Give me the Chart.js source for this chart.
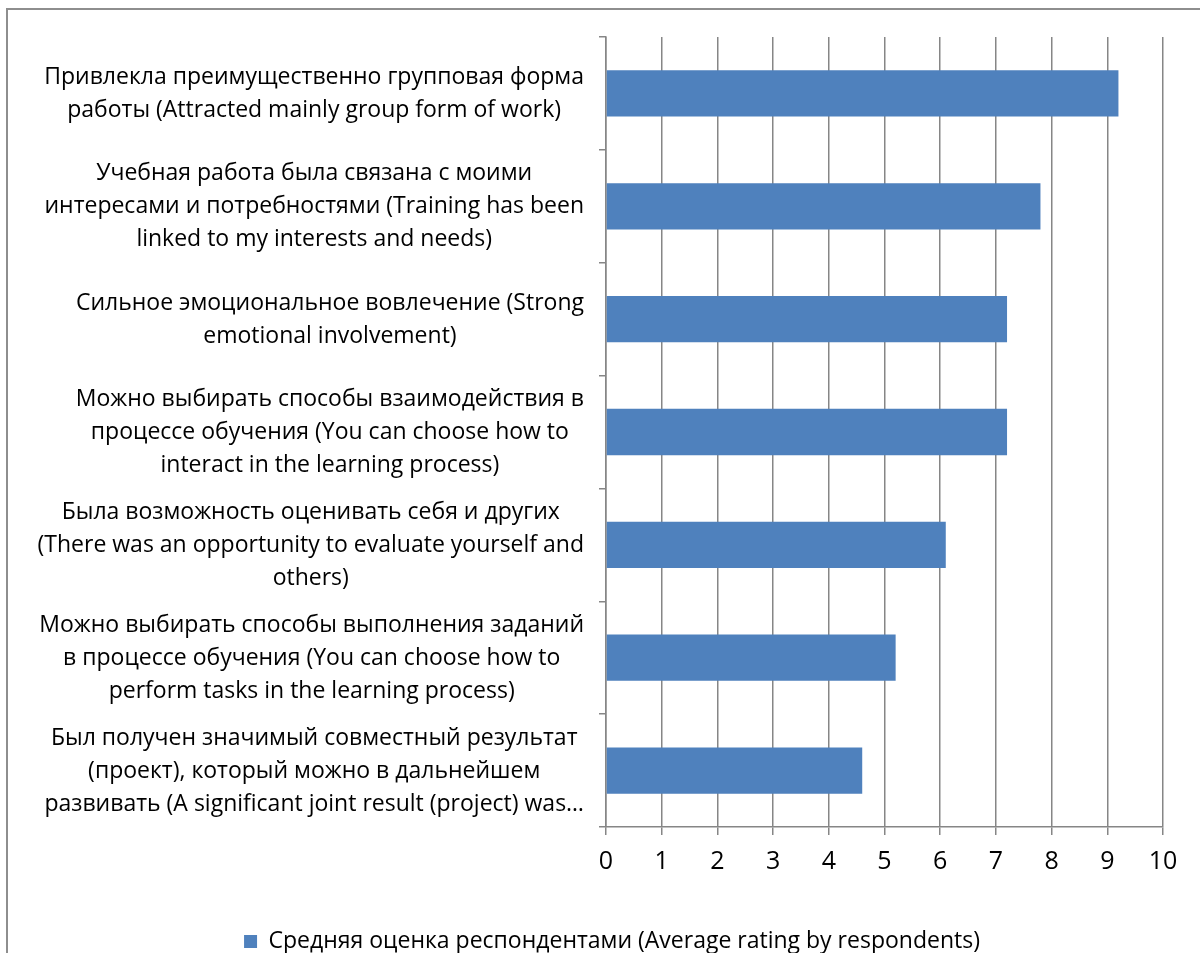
<!DOCTYPE html>
<html><head><meta charset="utf-8">
<script src="https://cdn.jsdelivr.net/npm/chart.js@4.4.1/dist/chart.umd.min.js"></script>
<style>
html,body{margin:0;padding:0;background:#fff;overflow:hidden;width:1200px;height:953px;}
#frame{position:absolute;left:6px;top:8px;width:1400px;height:1200px;border-top:2px solid #8e8e8e;border-left:2px solid #8e8e8e;}
#c{position:absolute;left:0;top:0;}
</style></head><body>
<div id="frame"></div>
<canvas id="c" width="1200" height="963"></canvas>
<script>
const categories = [
  ["Привлекла преимущественно групповая форма", "работы (Attracted mainly group form of work)"],
  ["Учебная работа была связана с моими", "интересами и потребностями (Training has been", "linked to my interests and needs)"],
  ["Сильное эмоциональное вовлечение (Strong", "emotional involvement)"],
  ["Можно выбирать способы взаимодействия в", "процессе обучения (You can choose how to", "interact in the learning process)"],
  ["Была возможность оценивать себя и других", "(There was an opportunity to evaluate yourself and", "others)"],
  ["Можно выбирать способы выполнения заданий", "в процессе обучения (You can choose how to", "perform tasks in the learning process)"],
  ["Был получен значимый совместный результат", "(проект), который можно в дальнейшем", "развивать (A significant joint result (project) was…"]
];
const values = [9.2, 7.8, 7.2, 7.2, 6.1, 5.2, 4.6];
const seriesName = "Средняя оценка респондентами (Average rating by respondents)";
const xMin = 0, xMax = 10, xStep = 1;

const FONT = '"Open Sans", "DejaVu Sans", sans-serif';
const AXIS = '#868686';

const yLabelPlugin = {
  id: 'yLabels',
  afterDraw(chart) {
    const ctx = chart.ctx, ys = chart.scales.y;
    ctx.save();
    ctx.font = '23px ' + FONT;
    ctx.fillStyle = '#000';
    ctx.textAlign = 'center';
    ctx.textBaseline = 'alphabetic';
    const right = ys.right - 22;
    categories.forEach((lines, i) => {
      const cy = ys.getPixelForValue(i);
      const w = Math.max(...lines.map(l => ctx.measureText(l).width));
      const cx = right - w / 2;
      lines.forEach((l, k) => {
        ctx.fillText(l, cx, cy + (k - (lines.length - 1) / 2) * 33 + 7);
      });
    });
    ctx.restore();
  }
};

new Chart(document.getElementById('c'), {
  type: 'bar',
  data: {
    labels: categories,
    datasets: [{
      label: seriesName,
      data: values,
      backgroundColor: '#4f81bd',
      borderWidth: 0,
      barPercentage: 0.41,
      categoryPercentage: 1.0
    }]
  },
  options: {
    indexAxis: 'y',
    responsive: false,
    animation: false,
    devicePixelRatio: 1,
    layout: { padding: { top: 37, left: 61, right: 37, bottom: 0 } },
    plugins: {
      tooltip: { enabled: false },
      legend: {
        position: 'bottom',
        labels: {
          boxWidth: 13, boxHeight: 13, padding: 10, color: '#000',
          font: { family: FONT, size: 23 }
        }
      }
    },
    scales: {
      x: {
        min: xMin, max: xMax,
        ticks: { stepSize: xStep, color: '#000', padding: 12, font: { family: FONT, size: 25 } },
        grid: { color: AXIS, lineWidth: 1.5, tickLength: 8, drawTicks: true },
        border: { color: AXIS, width: 1.5 },
        afterFit(s) { s.height = 93; }
      },
      y: {
        ticks: { display: false },
        grid: { drawOnChartArea: false, tickLength: 7, color: AXIS, lineWidth: 1.5, offset: true },
        border: { color: AXIS, width: 1.5 },
        afterFit(s) { s.width = 545; }
      }
    }
  },
  plugins: [yLabelPlugin]
});
</script>
</body></html>
